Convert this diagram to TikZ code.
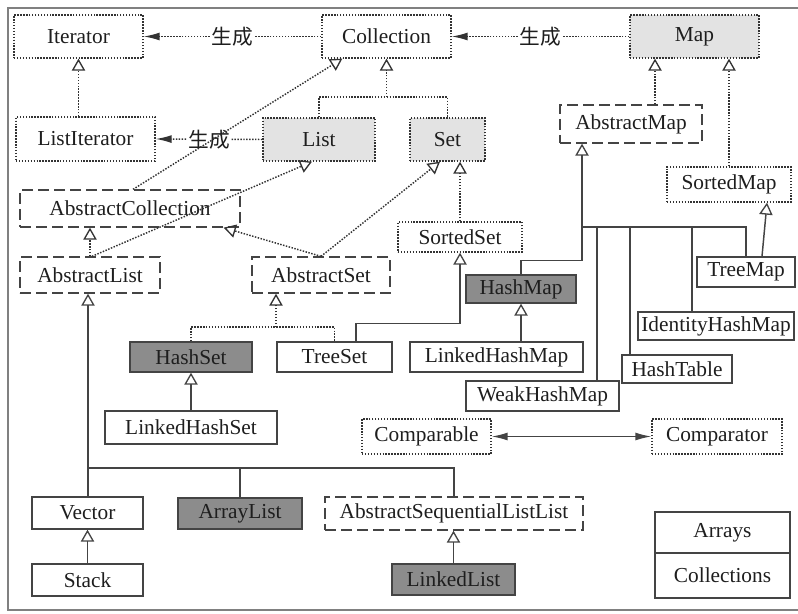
\documentclass[tikz,border=0pt]{standalone}
\usepackage{fontspec}
\setmainfont{Liberation Serif}
\newfontfamily\cjk{Noto Sans CJK SC}
\usetikzlibrary{arrows.meta,calc}
\definecolor{linec}{HTML}{444444}
\definecolor{dotc}{HTML}{333333}
\definecolor{lightfill}{HTML}{E3E3E3}
\definecolor{darkfill}{HTML}{8C8C8C}
\definecolor{textc}{HTML}{1E1E1E}
\begin{document}
\begin{tikzpicture}[x=0.75pt,y=-0.75pt,
  box/.style={draw=linec,line width=1pt,inner sep=0pt,text=textc,
    font=\fontsize{16}{19}\selectfont,anchor=center},
  dotbox/.style={box,draw=dotc,dash pattern=on 1.1pt off 1.1pt},
  dashbox/.style={box,dash pattern=on 8pt off 4pt},
  solidbox/.style={box},
  lightbox/.style={fill=lightfill},
  darkbox/.style={fill=darkfill},
  dotline/.style={draw=dotc,line width=1.1pt,dash pattern=on 1.1pt off 1.1pt},
  solidline/.style={draw=linec,line width=1.1pt},
  gen/.style={-{Triangle[open,length=9pt,width=10pt,line width=1pt]}},
  fillarrow/.tip={Latex[length=12pt,width=6pt]},
  lbl/.style={fill=white,inner sep=1pt,text=textc,font=\cjk\fontsize{15.5}{18}\selectfont}
]
\useasboundingbox (0,0) rectangle (798,613);
% frame
\draw[line width=1.5pt,draw=black!50] (798,8) -- (8,8) -- (8,610) -- (798,610);

% nodes
\node[dotbox,minimum width=129*0.75pt,minimum height=43*0.75pt] (Iterator) at (78.5,36.5) {Iterator};
\node[dotbox,minimum width=129*0.75pt,minimum height=43*0.75pt] (Collection) at (386.5,36.5) {Collection};
\node[dotbox,lightbox,minimum width=129*0.75pt,minimum height=43*0.75pt] (Map) at (694.5,36.5) {Map};
\node[dotbox,minimum width=139*0.75pt,minimum height=44*0.75pt] (ListIterator) at (85.5,139) {ListIterator};
\node[dotbox,lightbox,minimum width=112*0.75pt,minimum height=43*0.75pt] (List) at (319,139.5) {List};
\node[dotbox,lightbox,minimum width=75*0.75pt,minimum height=43*0.75pt] (Set) at (447.5,139.5) {Set};
\node[dashbox,minimum width=142*0.75pt,minimum height=38*0.75pt] (AbstractMap) at (631,124) {AbstractMap};
\node[dotbox,minimum width=124*0.75pt,minimum height=35*0.75pt] (SortedMap) at (729,184.5) {SortedMap};
\node[dashbox,minimum width=220*0.75pt,minimum height=37*0.75pt] (AbstractCollection) at (130,208.5) {AbstractCollection};
\node[dashbox,minimum width=140*0.75pt,minimum height=36*0.75pt] (AbstractList) at (90,275) {AbstractList};
\node[dashbox,minimum width=138*0.75pt,minimum height=36*0.75pt] (AbstractSet) at (321,275) {AbstractSet};
\node[dotbox,minimum width=124*0.75pt,minimum height=30*0.75pt] (SortedSet) at (460,237) {SortedSet};
\node[solidbox,darkbox,minimum width=110*0.75pt,minimum height=28*0.75pt] (HashMap) at (521,289) {HashMap};
\node[solidbox,darkbox,minimum width=122*0.75pt,minimum height=30*0.75pt] (HashSet) at (191,357) {HashSet};
\node[solidbox,minimum width=115*0.75pt,minimum height=30*0.75pt] (TreeSet) at (334.5,357) {TreeSet};
\node[solidbox,minimum width=173*0.75pt,minimum height=30*0.75pt] (LinkedHashMap) at (496.5,357) {LinkedHashMap};
\node[solidbox,minimum width=98*0.75pt,minimum height=30*0.75pt] (TreeMap) at (746,272) {TreeMap};
\node[solidbox,minimum width=156*0.75pt,minimum height=28*0.75pt] (IdentityHashMap) at (716,326) {IdentityHashMap};
\node[solidbox,minimum width=110*0.75pt,minimum height=28*0.75pt] (HashTable) at (677,369) {HashTable};
\node[solidbox,minimum width=153*0.75pt,minimum height=30*0.75pt] (WeakHashMap) at (542.5,396) {WeakHashMap};
\node[solidbox,minimum width=172*0.75pt,minimum height=33*0.75pt] (LinkedHashSet) at (191,427.5) {LinkedHashSet};
\node[dotbox,minimum width=129*0.75pt,minimum height=35*0.75pt] (Comparable) at (426.5,436.5) {Comparable};
\node[dotbox,minimum width=130*0.75pt,minimum height=35*0.75pt] (Comparator) at (717,436.5) {Comparator};
\node[solidbox,minimum width=111*0.75pt,minimum height=32*0.75pt] (Vector) at (87.5,513) {Vector};
\node[solidbox,darkbox,minimum width=124*0.75pt,minimum height=31*0.75pt] (ArrayList) at (240,513.5) {ArrayList};
\node[dashbox,minimum width=258*0.75pt,minimum height=33*0.75pt] (ASLL) at (454,513.5) {AbstractSequentialListList};
\node[solidbox,minimum width=111*0.75pt,minimum height=32*0.75pt] (Stack) at (87.5,580) {Stack};
\node[solidbox,darkbox,minimum width=123*0.75pt,minimum height=31*0.75pt] (LinkedList) at (453.5,579.5) {LinkedList};
\node[solidbox,minimum width=135*0.75pt,minimum height=41*0.75pt] (Arrays) at (722.5,532.5) {Arrays};
\node[solidbox,minimum width=135*0.75pt,minimum height=45*0.75pt] (Collections) at (722.5,575.5) {Collections};

% "生成" connectors
\draw[dotline,-{fillarrow}] (Collection.west) -- node[lbl]{生成} (Iterator.east);
\draw[dotline,-{fillarrow}] (Map.west) -- node[lbl]{生成} (Collection.east);
\draw[dotline,-{fillarrow}] (List.west) -- node[lbl]{生成} (ListIterator.east);

% interface hierarchy (dotted)
\draw[dotline,gen] (Iterator.south |- ListIterator.north) -- (Iterator.south);
\coordinate (jc) at (386.5,97);
\draw[dotline] (List.north) |- (jc) -| (Set.north);
\draw[dotline,gen] (jc) -- (jc |- Collection.south);
\coordinate (acn) at ($(AbstractCollection.north)+(3,0)$);
\coordinate (cst) at ($(Collection.south west)+(21,0)$);
\draw[dotline,gen] (acn) -- (cst);
\coordinate (aln) at ($(AbstractList.north)+(2,0)$);
\coordinate (lst) at ($(List.south)+(-7,0)$);
\draw[dotline,gen] (aln) -- (lst);
\draw[dotline,gen] (AbstractList.north) -- (AbstractList.north |- AbstractCollection.south);
\coordinate (act) at ($(AbstractCollection.south east)+(-17,0)$);
\draw[dotline,gen] (AbstractSet.north) -- (act);
\coordinate (sst) at ($(Set.south)+(-7.5,0)$);
\draw[dotline,gen] (AbstractSet.north) -- (sst);
\draw[dotline,gen] (SortedSet.north) -- (SortedSet.north |- Set.south);
\coordinate (jset) at (276,327);
\draw[dotline] (HashSet.north) |- (jset) -| (TreeSet.north);
\draw[dotline,gen] (jset) -- (jset |- AbstractSet.south);
\coordinate (amt) at ($(AbstractMap.north)+(24,0)$);
\draw[dotline,gen] (amt) -- (amt |- Map.south);
\draw[dotline,gen] (SortedMap.north) -- (SortedMap.north |- Map.south);

% class hierarchy (solid)
\coordinate (tsn) at ($(TreeSet.north)+(21.5,0)$);
\draw[solidline,gen] (tsn) -- ++(0,-18) -| (SortedSet.south);
\draw[solidline,gen] (LinkedHashSet.north) -- (HashSet.south);
\coordinate (amb) at ($(AbstractMap.south)+(-49,0)$);
\draw[solidline,gen] (HashMap.north) -- ++(0,-14) -| (amb);
\coordinate (mb) at (582,227);
\draw[solidline] (mb) -| (TreeMap.north);
\coordinate (b1) at (597,227);
\coordinate (b2) at (630,227);
\coordinate (b3) at (692,227);
\draw[solidline] (b1) -- (b1 |- WeakHashMap.north);
\draw[solidline] (b2) -- (b2 |- HashTable.north);
\draw[solidline] (b3) -- (b3 |- IdentityHashMap.north);
\coordinate (tmn) at ($(TreeMap.north)+(16,0)$);
\coordinate (smb) at ($(SortedMap.south)+(38,0)$);
\draw[solidline,gen] (tmn) -- (smb);
\draw[solidline,gen] (HashMap.south |- LinkedHashMap.north) -- (HashMap.south);
\draw[solidline,{fillarrow}-{fillarrow}] (Comparable.east) -- (Comparator.west);

\coordinate (vtn) at ($(Vector.north)+(0.5,0)$);
\draw[solidline,gen] (vtn) -- (vtn |- AbstractList.south);
\coordinate (lb) at (88,468);
\draw[solidline] (lb) -| (ASLL.north);
\draw[solidline] (ArrayList.north |- lb) -- (ArrayList.north);
\draw[solidline,gen] (Stack.north) -- (Vector.south);
\draw[solidline,gen] (LinkedList.north) -- (LinkedList.north |- ASLL.south);
\end{tikzpicture}
\end{document}
